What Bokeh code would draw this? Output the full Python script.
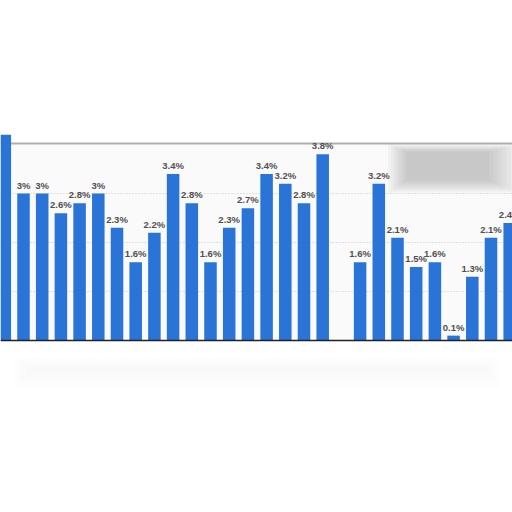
from bokeh.plotting import figure
from bokeh.models import ColumnDataSource, Range1d, Span, FixedTicker
from bokeh.embed import file_html
from bokeh.resources import INLINE
from bokeh.core.properties import value

# ---- data ----
slots = list(range(28))
values = [4.2, 3.0, 3.0, 2.6, 2.8, 3.0, 2.3, 1.6, 2.2, 3.4, 2.8, 1.6, 2.3, 2.7,
          3.4, 3.2, 2.8, 3.8, None, 1.6, 3.2, 2.1, 1.5, 1.6, 0.1, 1.3, 2.1, 2.4]
labels = ["", "3%", "3%", "2.6%", "2.8%", "3%", "2.3%", "1.6%", "2.2%", "3.4%",
          "2.8%", "1.6%", "2.3%", "2.7%", "3.4%", "3.2%", "2.8%", "3.8%", "",
          "1.6%", "3.2%", "2.1%", "1.5%", "1.6%", "0.1%", "1.3%", "2.1%", "2.4%"]
grid_ticks = [1, 2, 3]

xs = [s for s, v in zip(slots, values) if v is not None]
vs = [v for v in values if v is not None]
ls = [l for l, v in zip(labels, values) if v is not None]
src = ColumnDataSource(dict(x=xs, top=vs, label=ls))

p = figure(width=512, height=512, output_backend="svg", toolbar_location=None,
           x_range=Range1d(-0.23, 27.15), y_range=Range1d(-3.51, 6.94),
           min_border=0)
p.outline_line_color = None
p.axis.visible = False
p.xgrid.visible = False
p.ygrid.ticker = FixedTicker(ticks=grid_ticks)
p.ygrid.grid_line_color = "#c8c8c8"
p.ygrid.grid_line_dash = "1 2"
p.ygrid.level = "underlay"
p.background_fill_color = "white"
p.border_fill_color = "white"

# plot panel background
p.quad(left=-1, right=28, bottom=0, top=4, color="#fafafa", level="underlay")

# top frame line
p.add_layout(Span(location=4.02, dimension="width", line_color="#b0b0b0",
                  line_width=2, level="underlay"))

# blurred legend box (top right), soft layered
for k in range(8):
    f = k / 7.0
    p.quad(left=20.5 + 1.0 * f, right=27.5 - 1.6 * f, bottom=3.02 + 0.25 * f,
           top=4.0 - 0.15 * f, color="#909090", alpha=0.075, line_color=None)

# faint blurred axis labels below
for k in range(3):
    p.quad(left=0.5 + 0.3 * k, right=26.5 - 0.3 * k, bottom=-0.95 + 0.12 * k,
           top=-0.35 - 0.08 * k, color="#e6e6e6", alpha=0.07, line_color=None)

p.vbar(x="x", top="top", width=0.67, bottom=0, source=src,
       color="#2a74d8", line_color=None)

p.text(x="x", y="top", text="label", source=src, text_align="center",
       text_baseline="bottom", y_offset=-3, text_font=value("Liberation Sans"),
       text_font_size="9.5px", text_font_style="bold", text_color="#505050")

p.add_layout(Span(location=0, dimension="width", line_color="#222222", line_width=1.5))

open("out.html", "w").write(file_html(p, INLINE))
